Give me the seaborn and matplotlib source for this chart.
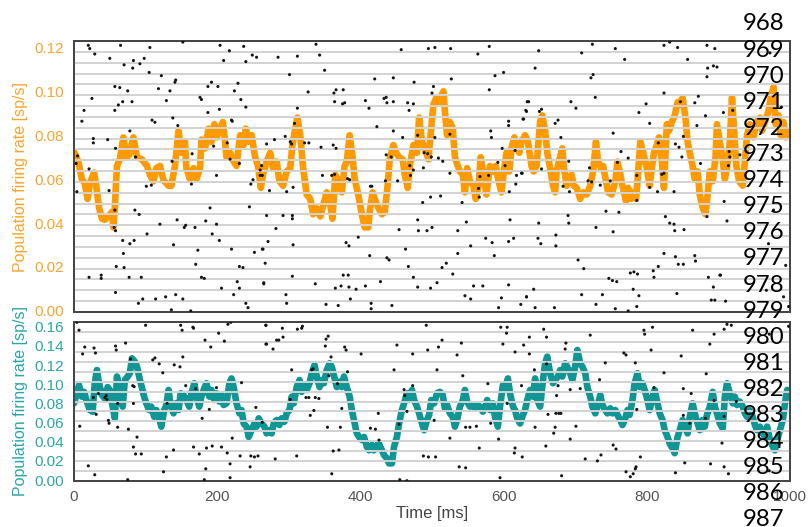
import matplotlib
matplotlib.use("Agg")
import matplotlib.pyplot as plt
import numpy as np
import pandas as pd
import seaborn as sns

# ---------------- data ----------------
time_top = [1,6,11,15,19,22,28,31,35,39,43,48,53,55,57,60,64,69,73,77,83,88,95,102,106,111,115,120,125,132,
            136,141,146,150,155,157,162,167,171,176,178,183,188,192,196,199,204,208,211,213,218,223,227,232,237,240,244,248,253,257,
            261,264,269,274,278,283,287,292,297,302,305,309,312,316,320,325,330,334,
            339,344,348,353,357,361,365,369,374,378,381,385,389,392,397,402,406,411,413,417,420,425,430,434,438,441,446,450,454,459,
            462,466,469,474,479,482,486,490,495,498,502,506,509,513,516,518,521,525,529,532,536,539,543,546,549,553,558,561,565,568,
            572,576,581,586,589,593,597,601,604,608,611,615,618,622,625,630,634,639,642,646,651,654,658,661,665,669,672,
            674,678,682,684,688,692,695,698,702,707,711,716,721,725,729,732,736,739,743,746,751,756,759,763,766,771,774,778,781,785,
            788,791,795,800,804,807,810,814,817,821,824,828,831,835,839,843,846,850,854,857,860,864,867,871,874,878,882,885,888,892,
            896,898,902,906,909,912,916,919,922,925,929,934,937,940,944,949,953,958,961,965,970,973,977,980,984,987,991,994,998]
rate_top = [0.072,0.068,0.060,0.058,0.051,0.058,0.063,0.057,0.047,0.042,0.0415,0.043,0.045,0.038,0.047,0.066,0.069,0.079,0.070,0.071,
            0.079,0.070,0.069,0.066,0.062,0.059,0.065,0.066,0.0595,0.057,0.057,0.066,0.082,0.072,0.077,0.065,0.060,0.065,0.060,0.065,
            0.078,0.074,0.083,0.077,0.085,0.079,0.083,0.086,0.077,0.070,0.072,0.068,0.066,0.080,0.0755,0.083,0.077,0.080,0.070,0.066,
            0.056,0.062,0.068,0.072,0.065,0.068,0.059,0.057,0.0635,0.065,0.0755,0.083,0.088,0.080,0.065,0.053,0.051,0.044,
            0.0467,0.043,0.048,0.054,0.050,0.042,0.062,0.059,0.054,0.066,0.068,0.080,0.070,0.060,0.053,0.044,0.038,0.038,0.045,0.054,
            0.051,0.047,0.044,0.045,0.057,0.069,0.0755,0.072,0.070,0.069,0.062,0.056,0.066,0.0755,0.072,0.088,0.077,0.074,0.069,0.080,
            0.094,0.097,0.0945,0.098,0.100,0.091,0.080,0.086,0.083,0.070,0.066,0.0635,0.062,0.054,0.065,0.059,0.057,0.051,0.057,0.070,
            0.062,0.053,0.066,0.0635,0.066,0.059,0.054,0.065,0.072,0.0635,0.074,0.079,0.0755,0.072,0.077,0.080,0.077,0.066,0.0635,0.066,
            0.086,0.089,0.082,0.072,0.065,0.057,0.054,
            0.0635,0.069,0.074,0.066,0.057,0.060,0.062,0.057,0.056,0.051,0.054,0.053,0.057,0.0635,0.077,0.068,0.065,0.066,0.059,0.054,
            0.053,0.059,0.068,0.062,0.057,0.050,0.056,0.051,0.054,0.051,0.0635,0.077,0.072,0.065,0.057,0.065,0.072,0.0755,0.079,0.068,
            0.056,0.085,0.082,0.086,0.089,0.095,0.094,0.097,0.088,0.077,0.072,0.066,0.060,0.0635,0.053,0.047,0.044,0.053,0.0635,0.059,
            0.070,0.085,0.077,0.069,0.060,0.065,0.077,0.097,0.082,0.066,0.059,0.057,0.068,0.080,0.085,0.079,0.086,0.088,0.082,0.086,
            0.091,0.097,0.102,0.085,0.089,0.080,0.086,0.079,0.082]

time_bot = [0,4,7,11,14,18,22,26,29,32,35,39,43,47,50,54,57,60,64,68,71,75,78,81,85,88,91,94,98,101,
            105,108,112,115,119,122,126,129,132,135,139,142,146,149,153,157,161,164,168,171,175,178,182,185,189,192,196,199,203,206,
            209,213,217,220,223,227,231,234,237,241,244,248,252,255,258,262,266,269,273,276,279,283,287,290,294,297,301,304,307,311,
            315,318,321,325,329,332,336,339,343,346,349,353,357,360,364,367,371,374,377,381,385,388,391,395,398,402,405,409,412,416,
            419,423,426,430,433,437,440,444,447,451,454,458,461,465,468,472,475,479,482,486,489,493,496,499,503,
            507,511,515,518,521,525,529,532,535,539,543,546,549,553,557,560,563,567,571,574,577,581,585,588,592,595,599,602,606,609,
            613,616,619,623,627,630,633,637,641,644,647,651,655,658,661,665,669,672,676,679,682,686,690,693,696,700,703,707,710,714,
            717,721,724,728,731,735,738,742,745,749,752,756,759,763,766,770,773,776,780,783,787,790,794,797,801,804,808,811,815,818,
            822,825,829,832,836,839,843,846,850,853,857,860,864,867,871,874,878,881,884,888,892,895,898,902,906,909,912,916,920,923,
            926,930,934,937,940,944,948,951,954,958,962,965,968,972,976,979,982,986,990,993,996,999]
rate_bot = [0.080,0.0905,0.099,0.087,0.092,0.0818,0.073,0.0713,0.101,0.1148,0.101,0.0887,0.085,0.097,0.094,0.0766,0.0644,0.108,0.094,0.0766,
            0.1044,0.108,0.1114,0.127,0.1235,0.1183,0.108,0.099,0.087,0.080,0.073,0.0766,0.066,0.073,0.0644,0.0557,0.073,0.0783,0.094,0.0783,
            0.0696,0.080,0.073,0.0905,0.0887,0.0835,0.0766,0.0905,0.101,0.087,0.0766,0.087,0.0957,0.101,0.087,0.094,0.0835,0.0905,0.0818,0.0887,
            0.0783,0.080,0.101,0.106,0.097,0.080,0.0696,0.073,0.059,0.0557,0.045,0.052,0.059,0.0557,0.0644,0.059,0.0557,0.0487,0.052,0.0487,
            0.059,0.0626,0.0574,0.0644,0.0609,0.0696,0.073,0.087,0.080,0.097,0.1044,0.092,0.099,0.094,0.101,0.1114,0.120,0.108,0.097,0.1044,
            0.101,0.1148,0.1218,0.1183,0.106,0.097,0.1027,0.097,0.108,0.097,0.087,0.073,0.0626,0.0487,0.045,0.0418,0.045,0.0348,0.031,0.0366,
            0.031,0.0366,0.038,0.031,0.026,0.0226,0.0174,0.0174,0.0348,0.045,0.059,0.073,0.080,0.0905,0.0835,0.094,0.0835,0.0766,0.0696,0.059,
            0.052,0.0626,0.068,0.0835,0.080,
            0.0905,0.092,0.0887,0.0748,0.0783,0.0696,0.066,0.0557,0.0626,0.0766,0.0835,0.094,0.0818,0.0766,0.0783,0.0748,0.0783,0.0766,0.0713,0.0748,
            0.0835,0.073,0.080,0.066,0.0557,0.0766,0.099,0.0957,0.106,0.0905,0.0766,0.073,0.0644,0.059,0.068,0.073,0.0835,0.094,0.087,0.106,
            0.0835,0.0766,0.1044,0.1218,0.1288,0.1114,0.101,0.1044,0.108,0.1148,0.108,0.1218,0.1166,0.1114,0.1044,0.1183,0.1357,0.1218,0.1183,0.1114,
            0.097,0.087,0.0766,0.0696,0.0766,0.0887,0.0783,0.073,0.0696,0.0748,0.0696,0.073,0.068,0.0626,0.0574,0.0644,0.073,0.068,0.0835,0.101,
            0.1114,0.097,0.101,0.094,0.0835,0.073,0.087,0.094,0.080,0.0696,0.0626,0.052,0.045,0.038,0.0331,0.028,0.045,0.052,0.0626,0.0557,
            0.0487,0.066,0.080,0.0696,0.059,0.052,0.0626,0.0557,0.068,0.0766,0.092,0.0766,0.0696,0.059,0.0539,0.087,0.101,0.0905,0.080,0.087,
            0.0783,0.0818,0.0766,0.0696,0.066,0.073,0.066,0.0574,0.052,0.0557,0.0487,0.045,0.0557,0.0418,0.0348,0.031,0.0418,0.052,0.0626,0.080,
            0.094,0.0905]

# spikes: (time [ms], neuron row) -- top panel has 25 rows, bottom panel 16 rows
spikes_top = [
 (20,24.6),(22,24.3),(65,24.6),(152,24.9),(106,24.4),(204,24.6),(237,24.5),(29,23.8),(50,23.4),(70,22.8),(83,23.2),(82,22.5),
 (98,23.4),(92,22.9),(209,23.2),(217,24.1),(249,23.7),(255,23.5),(240,23.1),(105,22.1),(122,21.8),(118,20.6),(141,21.2),(142,21.4),
 (134,20.4),(187,20.8),(192,21.2),(201,20.8),(229,21.1),(224,20.4),(57,20.8),(64,20.7),(75,20.4),(25,19.7),(62,19.1),(68,19.4),
 (81,19.4),(57,18.6),(14,18.6),(11,17.6),(109,17.7),(113,17.5),(129,19.5),(138,17.9),(145,17.2),(176,19.8),(178,19.6),(187,18.4),
 (203,18.7),(233,19.6),(240,18.9),(220,17.7),(221,17.6),(27,16.0),(27,15.6),(47,15.9),(78,16.7),(58,15.1),(86,14.3),(165,14.6),
 (137,13.9),(214,15.6),(218,14.1),(195,15.3),(231,13.7),(260,13.1),(5,14.4),(3,13.7),(21,13.2),(4,11.1),(49,11.2),(101,11.6),
 (108,11.7),(164,11.8),(199,12.6),(250,12.2),(247,11.8),(263,12.6),(85,9.4),(91,9.0),(144,8.5),(156,8.0),(154,7.8),(120,8.1),
 (169,7.8),(184,8.4),(190,9.6),(199,8.1),(245,9.7),(193,7.2),(203,6.6),(57,9.4),(56,7.8),(58,7.5),(68,6.6),(78,6.3),(84,6.6),
 (102,7.2),(139,6.2),(69,5.4),(173,5.7),(220,5.8),(252,5.5),(264,5.8),(59,4.2),(70,4.1),(77,3.2),(94,3.2),(21,3.2),(38,3.4),
 (38,3.1),(170,4.4),(178,3.2),(182,3.1),(231,4.2),(236,4.1),(228,2.8),(206,2.2),(231,2.2),(223,1.6),(265,2.7),(58,1.8),(90,0.8),
 (96,1.2),(114,1.2),(128,1.4),(142,1.6),(152,1.2),(136,0.2),(163,0.1),(240,0.8),(243,0.4),
 (338,24.7),(285,23.5),(312,23.6),(343,23.7),(350,22.3),(301,21.9),(457,24.2),(495,24.3),(504,24.4),(526,24.3),(580,24.5),(564,23.8),
 (420,21.5),(446,21.6),(475,21.2),(527,21.5),(588,21.8),(600,22.1),(580,20.5),(502,20.8),(500,20.2),(327,20.3),(363,20.2),(366,20.5),
 (376,20.5),(364,19.4),(375,19.2),(378,19.3),(407,19.5),(412,18.8),(433,19.7),(436,19.8),(437,19.3),(446,19.4),(466,19.3),(474,19.2),
 (468,18.6),(635,19.4),(632,18.5),(628,17.8),(607,17.6),(607,17.2),(582,16.7),(583,16.1),(598,15.1),(616,14.9),(626,12.8),(617,11.8),
 (608,11.1),(269,15.5),(280,15.9),(295,16.2),(302,15.7),(304,15.5),(312,18.8),(322,15.6),(328,15.6),(308,17.4),(345,15.2),(362,15.4),
 (366,15.1),(423,17.1),(446,16.7),(459,16.1),(480,16.3),(504,16.1),(509,14.2),(515,13.9),(525,16.4),(436,14.5),(443,14.3),(489,14.7),
 (494,14.6),(499,14.3),(260,12.6),(262,13.5),(273,11.2),(297,11.1),(306,11.5),(347,12.6),(360,12.6),(364,12.7),(382,12.3),(385,12.2),
 (414,11.6),(416,11.6),(435,12.1),(452,12.1),(469,13.5),(474,13.1),(470,12.6),(487,10.1),(498,10.6),(512,10.7),(488,13.3),(525,12.8),
 (565,11.4),(566,10.6),(567,12.5),(579,12.6),(592,13.8),(602,13.5),(618,12.6),(269,8.9),(282,7.7),(292,8.9),(305,8.6),(305,8.9),
 (306,6.2),(263,5.8),(271,6.5),(380,6.4),(384,6.1),(397,6.9),(413,5.2),(437,5.0),(440,4.8),(463,5.8),(454,7.6),(480,8.5),(481,7.5),
 (493,7.5),(500,7.8),(536,7.5),(548,8.3),(542,10.1),(554,6.1),(575,6.8),(584,6.4),(587,5.2),(536,5.4),(607,6.5),(614,6.8),(609,8.5),
 (267,4.5),(305,3.3),(265,2.6),(296,1.6),(297,0.8),(337,2.6),(352,0.7),(369,0.6),(365,2.2),(373,2.4),(376,3.4),(383,3.4),(384,2.3),
 (386,1.2),(394,2.1),(407,2.4),(415,0.8),(415,0.3),(428,2.8),(444,0.6),(467,4.2),(474,3.2),(480,2.3),(498,2.2),(507,2.7),(514,4.1),
 (520,4.5),(529,3.5),(546,1.5),(554,1.2),(558,2.4),(571,2.4),(593,0.4),(597,1.3),(607,2.5),(624,0.7),(632,1.4),
 (724,24.7),(756,24.3),(824,24.6),(832,24.9),(843,24.4),(884,24.6),(895,24.3),(649,24.1),(709,23.9),(769,23.3),(857,23.3),(644,22.5),
 (725,21.9),(722,21.6),(885,22.5),(893,22.7),(898,22.6),(884,21.7),(633,19.4),(694,19.4),(701,18.8),(653,18.7),(650,18.5),(631,18.6),
 (627,17.8),(672,17.4),(676,17.7),(680,16.1),(728,19.8),(799,19.2),(789,18.4),(804,17.4),(753,16.5),(824,20.2),(847,19.4),(764,14.8),
 (774,14.2),(840,15.5),(845,15.2),(849,14.3),(870,17.2),(882,18.1),(625,12.8),(653,13.2),(691,13.9),(720,13.3),(683,11.6),(692,11.1),
 (718,12.1),(723,12.0),(735,11.7),(749,12.1),(759,13.8),(786,12.6),(804,11.5),(815,11.1),(824,12.8),(821,12.7),(838,11.1),(786,10.3),
 (816,15.6),(743,9.3),(761,9.2),(729,7.8),(753,7.4),(690,8.9),(691,8.2),(649,8.2),(648,6.8),(652,6.3),(673,7.1),(673,6.1),(704,4.8),
 (712,4.0),(747,3.1),(752,2.9),(758,2.8),(777,3.6),(782,3.7),(787,3.5),(809,3.8),(810,3.2),(816,4.2),(824,5.4),(840,5.1),(844,4.4),
 (851,4.4),(867,5.2),(868,4.7),(826,8.8),(832,8.2),(838,8.1),(839,7.5),(852,7.6),(886,3.2),(893,2.3),(902,3.4),(642,2.1),(632,1.4),
 (644,0.4),(671,0.4),(709,1.6),(738,1.6),(729,0.7),(756,0.3),(774,0.1),(781,2.1),(789,1.5),(786,0.5),(842,1.7),(890,1.1),(895,1.1),
 (910,1.0),(903,3.4),(884,8.8),(908,10.2),(912,8.4),(916,14.3),(914,13.5),(915,14.8),(851,16.2),(872,19.9),(867,19.3),(907,18.4),
 (875,13.7),(920,18.6),(930,14.5),(972,23.9),(988,18.9),(977,9.4),(970,6.3),(994,4.3),(991,1.4),(998,0.5),(967,2.0)]

spikes_bot = [
 (4,16.0),(7,15.2),(12,12.8),(15,13.5),(28,13.4),(30,12.9),(8,5.5),(20,1.5),(29,0.6),(31,6.7),(34,8.8),(27,8.4),(43,8.4),(46,8.2),
 (48,6.1),(49,5.8),(45,8.6),(58,13.6),(59,13.2),(72,13.9),(61,7.8),(61,5.4),(76,5.2),(79,12.3),(82,9.6),(83,7.8),(84,9.5),(88,4.4),
 (83,3.4),(86,2.7),(94,2.7),(75,0.1),(100,15.7),(110,12.2),(113,12.4),(119,11.8),(124,10.9),(130,7.8),(140,11.7),(148,11.5),(152,12.5),
 (149,15.7),(151,15.2),(166,15.5),(167,15.4),(156,9.6),(170,9.3),(179,6.3),(183,14.2),(191,13.5),(202,14.9),(210,14.1),(215,15.8),
 (219,16.0),(199,9.4),(189,7.2),(139,3.1),(129,2.4),(125,0.9),(167,3.4),(175,2.7),(185,3.3),(193,3.5),(206,3.4),(214,2.8),(218,1.7),
 (218,0.3),(184,1.2),(182,0.1),(221,4.3),(232,2.5),(234,9.9),(246,1.4),(247,2.5),(252,2.4),(257,2.5),(254,7.4),(268,15.7),(268,13.8),
 (263,5.9),
 (268,15.7),(291,15.4),(292,14.5),(312,15.3),(319,15.6),(318,15.4),(283,14.2),(286,14.2),(269,13.8),(278,13.3),(352,14.3),(355,14.6),
 (351,13.6),(378,13.5),(380,13.2),(401,12.8),(451,13.7),(473,12.8),(494,13.2),(509,13.5),(514,14.2),(492,15.7),(541,13.9),(535,12.7),
 (596,15.5),(605,15.5),(604,14.9),(599,13.8),(616,13.0),(304,11.2),(332,11.2),(334,11.3),(359,12.5),(356,10.6),(368,9.8),(382,11.0),
 (447,11.2),(507,11.2),(543,10.6),(578,9.8),(605,7.8),(625,9.6),(461,9.2),(473,9.6),(462,8.6),(302,8.2),(324,8.4),(328,8.4),(337,8.4),
 (342,8.3),(335,7.1),(374,7.3),(330,6.6),(425,6.8),(372,5.4),(354,5.4),(414,5.3),(421,5.2),(454,5.7),(465,7.0),(503,6.1),(547,5.4),
 (553,5.4),(562,5.5),(582,5.8),(525,4.3),(566,3.3),(593,4.2),(616,3.3),(615,2.8),(311,2.5),(281,2.2),(362,3.0),(370,3.1),(426,4.1),
 (488,2.5),(495,2.4),(505,2.4),(538,1.4),(547,1.3),(360,0.7),(455,0.1),(465,0.0),(595,0.3),
 (656,15.3),(660,14.5),(636,14.5),(721,14.7),(796,15.2),(808,15.5),(797,14.8),(864,15.2),(894,14.8),(912,15.8),(918,15.7),(908,15.3),
 (628,13.7),(636,12.8),(687,13.9),(686,13.3),(643,11.2),(660,11.8),(676,9.6),(693,9.2),(707,9.3),(734,10.2),(742,11.9),(768,12.9),
 (771,12.7),(784,11.9),(806,13.2),(824,10.9),(848,12.6),(888,13.8),(883,10.8),(851,9.3),(810,9.4),(862,8.8),(894,8.1),(674,8.6),
 (680,6.8),(673,6.8),(677,6.8),(701,5.5),(644,5.4),(672,5.4),(662,6.7),(670,4.8),(693,4.2),(659,3.5),(753,3.6),(757,3.2),(736,2.6),
 (731,2.0),(714,2.2),(626,2.4),(791,2.4),(785,1.4),(784,1.2),(781,0.7),(777,0.4),(771,0.9),(681,0.5),(840,0.8),(853,1.8),(889,1.7),
 (908,1.4),(914,0.7),(905,3.8),(860,5.8),(851,6.6),(786,7.2),(882,6.3),(908,6.5),(925,8.0),(971,14.8),(998,15.6),(985,3.7),(971,1.0)]

top_yticks = [0.00, 0.02, 0.04, 0.06, 0.08, 0.10, 0.12]
bot_yticks = [0.00, 0.02, 0.04, 0.06, 0.08, 0.10, 0.12, 0.14, 0.16]
x_ticks = [0, 200, 400, 600, 800, 1000]
neuron_ids = list(range(968, 988))
ylabel_text = "Population firing rate [sp/s]"
xlabel_text = "Time [ms]"

# ---------------- style ----------------
sns.set_style("white")
plt.rcParams['font.family'] = ['Liberation Sans', 'DejaVu Sans']

ORANGE = '#FF9A00'
ORANGE_TXT = '#FBA42C'
TEAL = '#119696'
TEAL_TXT = '#2AA5A5'
SPINE = '#454545'
GRID = '#d2d2d2'

W, H = 808, 527
fig = plt.figure(figsize=(W / 100, H / 100), dpi=100)
ax1 = fig.add_axes([74 / W, 1 - 312 / H, 716 / W, 271 / H])
ax2 = fig.add_axes([74 / W, 1 - 480.7 / H, 716 / W, 158.4 / H])


def panel(ax, t, v, color, txtcolor, ylim, yticks, n_rows, spikes):
    df = pd.DataFrame({'t': t, 'v': v})
    sns.lineplot(data=df, x='t', y='v', ax=ax, color=color, lw=4.8,
                 sort=False, estimator=None)
    ax.set_xlim(0, 1000)
    ax.set_ylim(*ylim)
    ax.set_yticks(yticks)
    ax.set_yticklabels([f"{y:.2f}" for y in yticks])
    ax.set_xticks(x_ticks)
    ax.tick_params(axis='y', length=0, pad=7, labelsize=11, labelcolor=txtcolor)
    ax.tick_params(axis='x', length=0, pad=7, labelsize=11, labelcolor='#555555')
    ax.set_ylabel(ylabel_text, color=txtcolor, fontsize=11.5)
    ax.yaxis.set_label_coords(-0.064, 0.5)
    ax.set_xlabel('')

    r = ax.twinx()
    r.set_ylim(0, n_rows)
    r.set_xlim(0, 1000)
    for k in range(1, n_rows):
        r.axhline(k, color=GRID, lw=1.4, zorder=1)
    sdf = pd.DataFrame(spikes, columns=['t', 'row'])
    sns.scatterplot(data=sdf, x='t', y='row', ax=r, s=5, color='#151515',
                    edgecolor='none', zorder=3, legend=False)
    r.set_yticks([])
    r.set_ylabel('')
    r.set_xlabel('')
    for a in (ax, r):
        for s in a.spines.values():
            s.set_color(SPINE)
            s.set_linewidth(1.3)
            s.set_visible(True)
    return r


panel(ax1, time_top, rate_top, ORANGE, ORANGE_TXT, (-0.0005, 0.1229), top_yticks, 25, spikes_top)
panel(ax2, time_bot, rate_bot, TEAL, TEAL_TXT, (-0.0007, 0.1646), bot_yticks, 16, spikes_bot)

ax1.tick_params(axis='x', labelbottom=False)
ax2.set_xlabel(xlabel_text, fontsize=12, color='#444444')
ax2.xaxis.set_label_coords(0.5, -0.16)

for i, nid in enumerate(neuron_ids):
    fig.text(743 / W, 1 - (30.5 + 26.1 * i) / H, str(nid), fontsize=17.3,
             family=['Lato', 'DejaVu Sans'], color='black', ha='left', va='baseline')

fig.savefig('out.png', dpi=100)
